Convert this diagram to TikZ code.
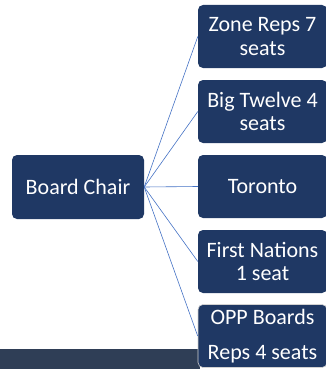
\documentclass[tikz,border=0pt]{standalone}
\usepackage{fontspec}
\setmainfont{Carlito}
\definecolor{navy}{RGB}{31,56,100}
\definecolor{linkblue}{RGB}{68,114,196}
\definecolor{band}{RGB}{47,62,86}
\begin{document}
\begin{tikzpicture}[x=1pt,y=-1pt,
	box/.style={fill=navy,rounded corners=5pt,text=white,align=center,inner sep=0pt,
		font=\fontsize{22}{23.5}\selectfont,minimum width=129pt,minimum height=63pt},
	link/.style={draw=linkblue,line width=0.6pt}]
	\useasboundingbox (0,0) rectangle (325,369);
	% strip along the bottom
	\fill[band] (0,349) rectangle (200,369);
	\node[box,minimum width=132pt,minimum height=64pt] (chair) at (78,187) {Board Chair};
	\node[box] (zone) at (262.5,36.5) {Zone Reps 7\\seats};
	\node[box] (big) at (262.5,111.5) {Big Twelve 4\\seats};
	\node[box] (toronto) at (262.5,186.5) {Toronto};
	\node[box] (first) at (262.5,261.5) {First Nations\\1 seat};
	\node[box,draw=gray!35,line width=0.6pt,font=\fontsize{22}{35}\selectfont] (opp) at (262.5,336) {OPP Boards\\Reps 4 seats};
	\foreach \n in {zone,big,toronto,first,opp}
		\draw[link] (chair.east) -- (\n.west);
\end{tikzpicture}
\end{document}
